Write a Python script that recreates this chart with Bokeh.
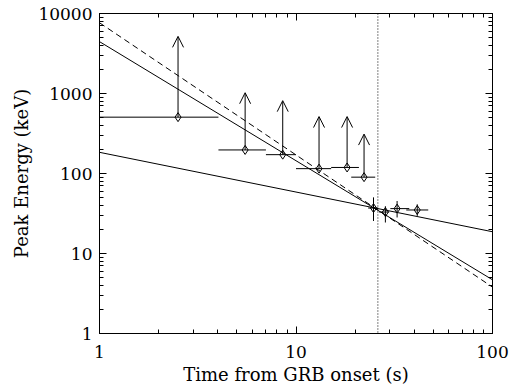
from bokeh.plotting import figure
from bokeh.models import (ColumnDataSource, FixedTicker, LogAxis, Arrow, OpenHead,
                          Span, CustomJSTickFormatter)
from bokeh.embed import file_html
from bokeh.resources import INLINE

# ---- data ----
t = [2.51, 5.51, 8.56, 13.1, 18.2, 22.2, 24.8, 28.5, 32.7, 41.4]
t_lo = [1.0, 4.03, 7.03, 10.0, 15.1, 19.1, 23.3, 26.5, 30.2, 36.4]
t_hi = [4.03, 7.03, 10.0, 15.1, 20.9, 25.3, 26.2, 29.8, 37.7, 47.1]
ep = [506, 197, 172, 115, 119, 90, 37, 33, 36.4, 35]

# lower limits (first six points): arrow tips
lim_idx = [0, 1, 2, 3, 4, 5]
lim_top = [5180, 1023, 814, 515, 515, 311]

# detections (last four points): vertical error bars
det_idx = [6, 7, 8, 9]
ep_lo = [25.5, 24.4, 28.2, 29.5]
ep_hi = [50.3, 39.0, 45.3, 41.2]

# fitted power laws (endpoints at t = 1 and t = 100)
fit_t = [1, 100]
fit_steep = [4450, 4.69]
fit_dashed = [7660, 3.8]
fit_shallow = [184, 18.7]

t_break = 26.1

x_major = [1, 10, 100]
x_minor = [m * d for d in (1, 10) for m in range(2, 10)]
y_major = [1, 10, 100, 1000, 10000]
y_minor = [m * d for d in (1, 10, 100, 1000) for m in range(2, 10)]

FONT = "DejaVu Serif"

p = figure(width=510, height=387, x_axis_type="log", y_axis_type="log",
           x_range=(1, 100), y_range=(1, 10000),
           output_backend="svg", toolbar_location=None,
           min_border_left=99, min_border_right=18,
           min_border_top=13, min_border_bottom=52)
p.grid.visible = False
p.outline_line_color = "black"
p.background_fill_color = "white"
p.border_fill_color = "white"

def style_axis(ax, major, minor, show_labels):
    ax.ticker = FixedTicker(ticks=major, minor_ticks=minor)
    ax.axis_line_color = "black"
    ax.major_tick_in = 7
    ax.major_tick_out = 0
    ax.minor_tick_in = 4
    ax.minor_tick_out = 0
    ax.major_tick_line_color = "black"
    ax.minor_tick_line_color = "black"
    ax.major_label_text_font = FONT
    ax.major_label_text_font_size = "17px"
    ax.major_label_text_color = "black"
    if show_labels:
        ax.formatter = CustomJSTickFormatter(code="return String(Math.round(tick));")
        ax.axis_label_text_font = FONT
        ax.axis_label_text_font_size = "18px"
        ax.axis_label_text_font_style = "normal"
        ax.axis_label_text_color = "black"
    else:
        ax.formatter = CustomJSTickFormatter(code="return '';")
        ax.major_label_standoff = 0

style_axis(p.xaxis[0], x_major, x_minor, True)
style_axis(p.yaxis[0], y_major, y_minor, True)
p.xaxis[0].axis_label = "Time from GRB onset (s)"
p.yaxis[0].axis_label = "Peak Energy (keV)"
p.xaxis[0].major_label_standoff = 12
p.xaxis[0].axis_label_standoff = 3
p.yaxis[0].major_label_standoff = 7
p.yaxis[0].axis_label_standoff = 3

top = LogAxis()
style_axis(top, x_major, x_minor, False)
p.add_layout(top, "above")
right = LogAxis()
style_axis(right, y_major, y_minor, False)
p.add_layout(right, "right")

# fitted lines
p.line(fit_t, fit_steep, line_color="black", line_width=1)
p.line(fit_t, fit_dashed, line_color="black", line_width=1, line_dash="6 4")
p.line(fit_t, fit_shallow, line_color="black", line_width=1)

p.add_layout(Span(location=t_break, dimension="height", line_color="black",
                  line_width=1, line_dash="1 2"))

# horizontal error bars
p.segment(x0=t_lo, x1=t_hi, y0=ep, y1=ep, line_color="black", line_width=1)

# vertical error bars for detections
p.segment(x0=[t[i] for i in det_idx], x1=[t[i] for i in det_idx],
          y0=ep_lo, y1=ep_hi, line_color="black", line_width=1)

# lower-limit arrows
lim_src = ColumnDataSource(dict(x=[t[i] for i in lim_idx],
                                y=[ep[i] for i in lim_idx],
                                top=lim_top))
p.add_layout(Arrow(x_start="x", y_start="y", x_end="x", y_end="top",
                   source=lim_src, line_color="black", line_width=1,
                   end=OpenHead(size=11, line_color="black", line_width=1)))

# diamonds
p.scatter(t, ep, marker="diamond", size=9, line_color="black",
          fill_alpha=0, line_width=1)

open("out.html", "w").write(file_html(p, INLINE))
